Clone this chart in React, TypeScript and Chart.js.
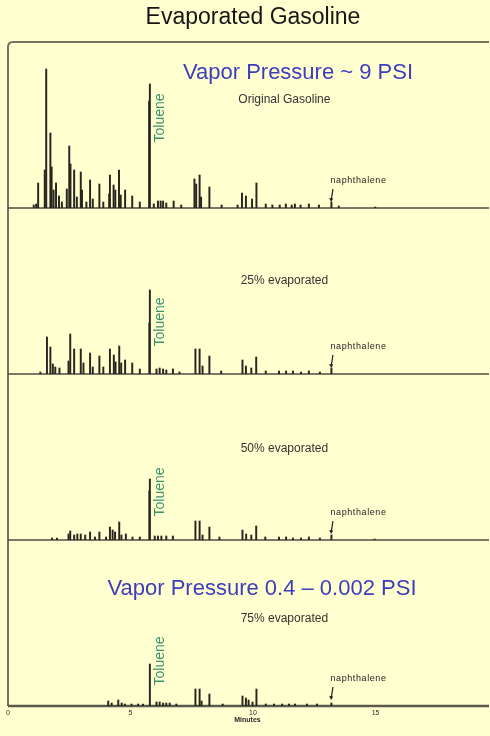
import React, { useEffect, useRef } from "react";
import { Chart, registerables } from "chart.js";

Chart.register(...registerables);

// ---------- text ----------
const TITLE = "Evaporated Gasoline";
const PANEL_NAMES = ["Original Gasoline", "25% evaporated", "50% evaporated", "75% evaporated"];
const VP_HIGH = "Vapor Pressure ~ 9 PSI";
const VP_LOW = "Vapor Pressure 0.4 \u2013 0.002 PSI";
const TOLUENE = "Toluene";
const NAPHTHALENE = "naphthalene";
const X_TITLE = "Minutes";

// ---------- axis ----------
const X_TICKS = [0, 5, 10, 15];
const X_MAX = 19.55; // minutes
const Y_MAX = 166; // detector response (arbitrary units)
const TOLUENE_TIME = 5.79;
const NAPHTHALENE_TIME = 13.2;

// ---------- data: retention time (min) / peak height ----------
const ORIGINAL_TIMES = [1.05, 1.15, 1.23, 1.5, 1.56, 1.73, 1.78, 1.86, 1.96, 2.08, 2.2, 2.4, 2.5, 2.55, 2.7, 2.81, 2.97, 3.02, 3.2, 3.35, 3.46, 3.73, 3.89, 4.13, 4.16, 4.31, 4.38, 4.53, 4.6, 4.78, 5.07, 5.38, 5.76, 5.79, 5.95, 6.12, 6.23, 6.33, 6.46, 6.76, 7.07, 7.61, 7.68, 7.82, 7.88, 8.22, 8.72, 9.37, 9.55, 9.71, 9.96, 10.14, 10.52, 10.79, 11.09, 11.34, 11.58, 11.71, 11.94, 12.28, 12.69, 13.2, 13.5, 14.99];
const ORIGINAL_HEIGHTS = [3, 4, 25, 38, 139, 75, 41, 18, 25, 12, 6, 19, 62, 44, 38, 11, 36, 18, 6, 28, 9, 24, 6, 14, 33, 23, 18, 38, 13, 18, 12, 6, 107, 124, 4, 7, 7, 7, 5, 7, 3, 29, 24, 33, 11, 21, 3, 3, 15, 12, 9, 25, 4, 3, 3, 4, 3, 4, 3, 4, 3, 6, 2, 1];

const EVAP25_TIMES = [1.32, 1.59, 1.73, 1.83, 1.93, 2.1, 2.47, 2.54, 2.7, 2.97, 3.08, 3.35, 3.46, 3.73, 3.89, 4.16, 4.32, 4.39, 4.54, 4.62, 4.78, 5.07, 5.38, 5.77, 5.79, 6.06, 6.19, 6.33, 6.46, 6.73, 7.0, 7.65, 7.82, 7.94, 8.22, 8.7, 9.57, 9.71, 9.93, 10.13, 10.52, 11.06, 11.35, 11.63, 11.96, 12.28, 12.73, 13.2];
const EVAP25_HEIGHTS = [2, 37, 27, 10, 7, 6, 13, 40, 25, 25, 11, 21, 7, 18, 7, 25, 19, 12, 28, 11, 14, 11, 5, 51, 84, 5, 6, 5, 4, 5, 2, 25, 25, 8, 18, 3, 14, 8, 6, 17, 3, 3, 3, 3, 2, 3, 2, 6];

const EVAP50_TIMES = [1.8, 2.0, 2.47, 2.54, 2.7, 2.83, 2.97, 3.15, 3.35, 3.55, 3.73, 4.0, 4.16, 4.27, 4.37, 4.54, 4.63, 4.81, 5.08, 5.38, 5.77, 5.79, 5.99, 6.12, 6.26, 6.46, 6.73, 7.65, 7.82, 7.94, 8.22, 8.63, 9.57, 9.72, 9.93, 10.13, 10.5, 11.06, 11.35, 11.63, 11.96, 12.28, 12.73, 13.2, 14.96];
const EVAP50_HEIGHTS = [2, 2, 6, 9, 5, 6, 6, 5, 8, 3, 8, 3, 13, 10, 8, 18, 5, 6, 3, 3, 49, 61, 4, 4, 4, 4, 4, 19, 19, 5, 13, 3, 10, 6, 5, 14, 3, 3, 3, 2, 2, 3, 2, 5, 1];

const EVAP75_TIMES = [4.09, 4.23, 4.5, 4.64, 4.77, 5.04, 5.31, 5.51, 5.79, 6.06, 6.19, 6.33, 6.46, 6.6, 6.87, 7.65, 7.82, 7.9, 8.22, 8.76, 9.57, 9.71, 9.82, 9.98, 10.14, 10.52, 10.86, 11.19, 11.47, 11.71, 12.2, 12.61, 13.2];
const EVAP75_HEIGHTS = [5, 3, 6, 3, 2, 2, 2, 2, 42, 4, 4, 3, 3, 3, 2, 17, 17, 5, 12, 2, 10, 8, 6, 4, 17, 2, 2, 2, 2, 2, 2, 2, 3];

const PANEL_IDS = ["p1", "p2", "p3", "p4"];
const PANEL_TIMES = [ORIGINAL_TIMES, EVAP25_TIMES, EVAP50_TIMES, EVAP75_TIMES];
const PANEL_HEIGHTS = [ORIGINAL_HEIGHTS, EVAP25_HEIGHTS, EVAP50_HEIGHTS, EVAP75_HEIGHTS];

const FONT = '"Liberation Sans", Arial, Helvetica, sans-serif';
const BG = "#FFFFD0";

export default function App() {
  const canvasRef = useRef<HTMLCanvasElement | null>(null);

  useEffect(() => {
    const canvas = canvasRef.current;
    if (!canvas) return;

    const datasets = PANEL_IDS.map((id, i) => ({
      type: "bar" as const,
      label: PANEL_NAMES[i],
      data: PANEL_TIMES[i].map((t, k) => ({ x: t, y: PANEL_HEIGHTS[i][k] })),
      yAxisID: id,
      xAxisID: "x",
      backgroundColor: "#26261f",
      borderWidth: 0,
      barThickness: 1.3,
      grouped: false,
    }));

    const yScale = (weight: number) => ({
      type: "linear" as const,
      position: "left" as const,
      stack: "panels",
      stackWeight: 1,
      weight,
      min: 0,
      max: Y_MAX,
      display: true,
      ticks: { display: false },
      grid: { display: false, drawTicks: false },
      border: { display: false },
      afterFit: (s: any) => {
        s.width = 0;
      },
    });

    const annotate = {
      id: "annotate",
      beforeDatasetsDraw(chart: any) {
        const ctx = chart.ctx as CanvasRenderingContext2D;
        const area = chart.chartArea;
        ctx.save();
        // frame (top + left)
        ctx.strokeStyle = "#72725f";
        ctx.lineWidth = 2;
        ctx.beginPath();
        ctx.moveTo(area.left, area.bottom);
        ctx.lineTo(area.left, area.top + 5);
        ctx.quadraticCurveTo(area.left, area.top, area.left + 5, area.top);
        ctx.lineTo(area.right + 2, area.top);
        ctx.stroke();
        // panel baselines
        PANEL_IDS.forEach((id, i) => {
          const s = chart.scales[id];
          const y = s.getPixelForValue(0);
          ctx.strokeStyle = i === 3 ? "#5a5a4c" : "#4c4c42";
          ctx.lineWidth = i === 3 ? 2.6 : 1.5;
          ctx.beginPath();
          ctx.moveTo(area.left, y);
          ctx.lineTo(area.right + 2, y);
          ctx.stroke();
        });
        ctx.restore();
      },
      afterDatasetsDraw(chart: any) {
        const ctx = chart.ctx as CanvasRenderingContext2D;
        const xs = chart.scales.x;
        ctx.save();
        // title
        ctx.fillStyle = "#151515";
        ctx.font = `23px ${FONT}`;
        ctx.textAlign = "center";
        ctx.textBaseline = "middle";
        ctx.fillText(TITLE, 253, 18);

        const nameOffsets = [58, 73, 75, 79];
        const tolueneOffsets = [90, 52, 48, 45];
        const xTol = xs.getPixelForValue(TOLUENE_TIME);
        const xNap = xs.getPixelForValue(NAPHTHALENE_TIME);
        const xName = xs.getPixelForValue(11.28);

        PANEL_IDS.forEach((id, i) => {
          const s = chart.scales[id];
          const top = s.top;
          const base = s.getPixelForValue(0);
          // panel name
          ctx.fillStyle = "#333333";
          ctx.font = `12px ${FONT}`;
          ctx.textAlign = "center";
          ctx.textBaseline = "middle";
          ctx.fillText(PANEL_NAMES[i], xName, top + nameOffsets[i]);
          // toluene label (rotated)
          ctx.save();
          ctx.translate(xTol + 10, base - tolueneOffsets[i]);
          ctx.rotate(-Math.PI / 2);
          ctx.fillStyle = "#3a9470";
          ctx.font = `14px ${FONT}`;
          ctx.textAlign = "center";
          ctx.textBaseline = "middle";
          ctx.fillText(TOLUENE, 0, 0);
          ctx.restore();
          // naphthalene label + arrow
          ctx.save();
          ctx.fillStyle = "#1e1e1e";
          ctx.font = `9px ${FONT}`;
          (ctx as any).letterSpacing = "0.6px";
          ctx.textAlign = "left";
          ctx.textBaseline = "middle";
          ctx.fillText(NAPHTHALENE, xNap - 1, base - 27);
          ctx.restore();
          ctx.fillStyle = "#1e1e1e";
          ctx.strokeStyle = "#1e1e1e";
          ctx.lineWidth = 1.2;
          ctx.beginPath();
          ctx.moveTo(xNap + 1.5, base - 19);
          ctx.lineTo(xNap, base - 9);
          ctx.stroke();
          ctx.beginPath();
          ctx.moveTo(xNap - 2.2, base - 10);
          ctx.lineTo(xNap + 1.8, base - 9.5);
          ctx.lineTo(xNap - 0.3, base - 6);
          ctx.closePath();
          ctx.fill();
        });

        // vapor pressure labels
        ctx.fillStyle = "#3d3dbd";
        ctx.font = `22px ${FONT}`;
        ctx.textAlign = "center";
        ctx.textBaseline = "middle";
        ctx.fillText(VP_HIGH, 298, chart.scales.p1.top + 31);
        ctx.fillText(VP_LOW, 262, chart.scales.p4.top + 49);
        ctx.restore();
      },
    };

    const chart = new Chart(canvas, {
      type: "bar",
      data: { datasets: datasets as any },
      options: {
        responsive: false,
        animation: false,
        events: [],
        layout: { padding: { left: 8, right: 0, top: 42, bottom: 12 } },
        plugins: { legend: { display: false }, tooltip: { enabled: false }, title: { display: false } },
        scales: {
          x: {
            type: "linear",
            position: "bottom",
            min: 0,
            max: X_MAX,
            offset: false,
            grid: { display: false, drawTicks: false },
            border: { display: false },
            ticks: {
              stepSize: 5,
              autoSkip: false,
              maxRotation: 0,
              padding: 3,
              color: "#2a2a2a",
              font: { size: 7, family: FONT },
              callback: (v: any) => (X_TICKS.includes(Number(v)) ? String(v) : ""),
            },
            title: {
              display: true,
              text: X_TITLE,
              color: "#2a2a2a",
              font: { size: 7, weight: "bold", family: FONT },
              padding: { top: 0, bottom: 0 },
            },
            afterFit: (s: any) => {
              s.height = 18;
            },
          },
          p1: yScale(4),
          p2: yScale(3),
          p3: yScale(2),
          p4: yScale(1),
        } as any,
      },
      plugins: [annotate as any],
    });

    return () => chart.destroy();
  }, []);

  return (
    <div style={{ position: "fixed", left: 0, top: 0, width: 490, height: 736, background: BG }}>
      <canvas ref={canvasRef} width={490} height={736} style={{ display: "block" }} />
    </div>
  );
}
